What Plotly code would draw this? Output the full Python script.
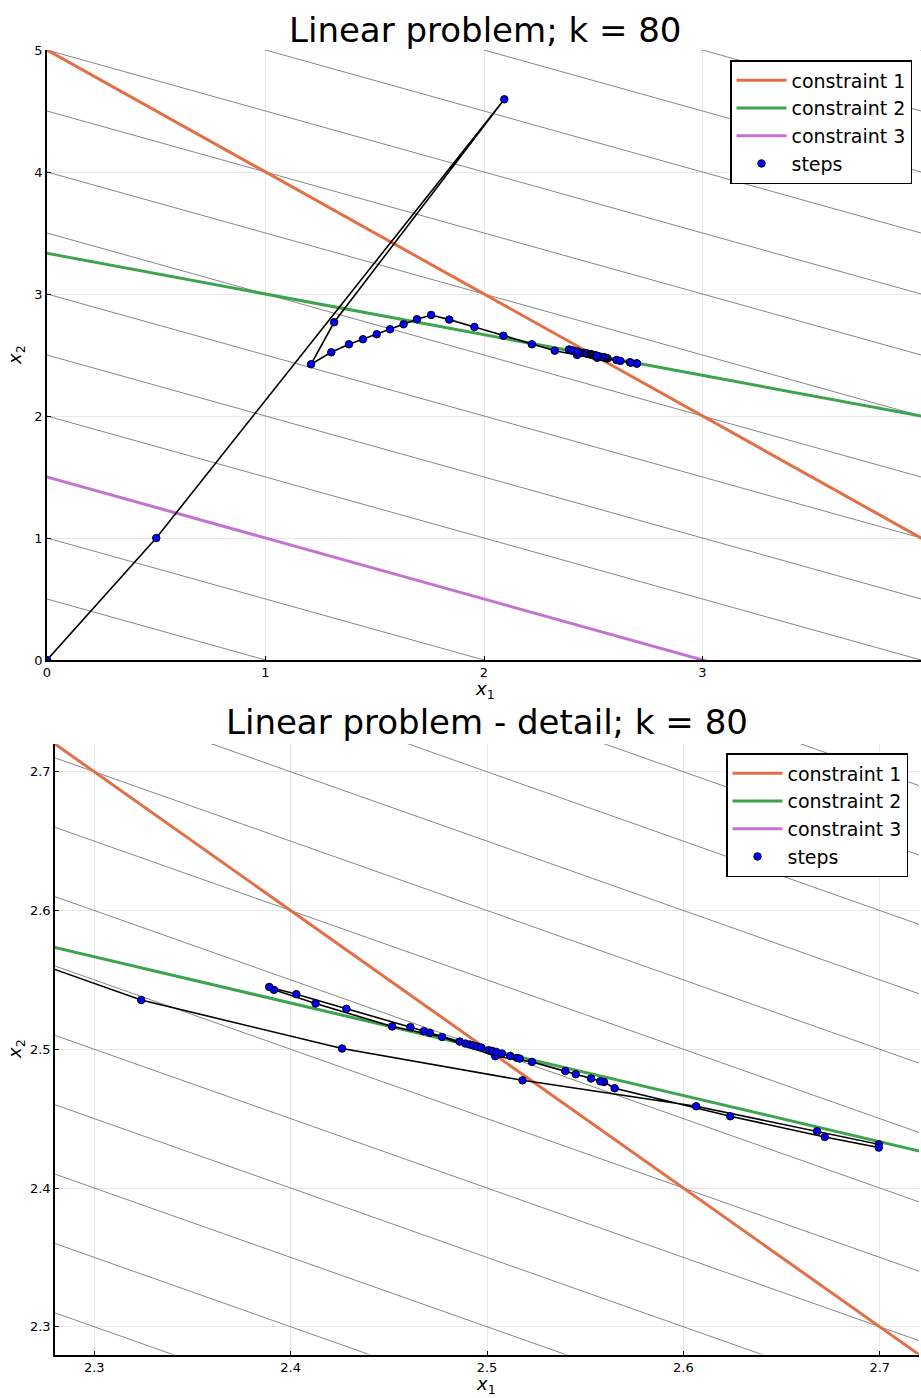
import plotly.graph_objects as go

# ---------------- data ----------------
# iterates of the method (x1, x2)
steps_x1 = [0.0, 0.5, 2.093, 1.314, 1.208, 1.301, 1.382, 1.446, 1.509, 1.570, 1.632, 1.693,
            1.758, 1.841, 1.956, 2.089, 2.219, 2.3239, 2.4262, 2.5181, 2.6065, 2.6681, 2.6995,
            2.6995, 2.672, 2.6239, 2.565, 2.5596, 2.5577, 2.553, 2.5452, 2.5399, 2.5229, 2.5042,
            2.4771, 2.4517, 2.4127, 2.3915, 2.3891, 2.4029, 2.4284, 2.461, 2.4678, 2.4709, 2.4861,
            2.489, 2.4912, 2.4929, 2.4949, 2.4971, 2.5008, 2.5026, 2.5047, 2.5076, 2.5119, 2.5153,
            2.5166]
steps_x2 = [0.0, 1.0, 4.596, 2.768, 2.424, 2.522, 2.588, 2.629, 2.670, 2.711, 2.752, 2.793,
            2.828, 2.790, 2.730, 2.658, 2.588, 2.5355, 2.5005, 2.4776, 2.4589, 2.4409, 2.4315,
            2.4291, 2.4368, 2.4517, 2.4719, 2.4764, 2.4769, 2.4789, 2.482, 2.4843, 2.4909, 2.495,
            2.5089, 2.5164, 2.533, 2.5428, 2.5449, 2.5397, 2.5291, 2.5159, 2.513, 2.5118, 2.5055,
            2.5041, 2.5034, 2.5027, 2.502, 2.5012, 2.4993, 2.4988, 2.4981, 2.4969, 2.4952, 2.4937,
            2.4933]

# constraints a1*x1 + a2*x2 = b
constraint_names = ["constraint 1", "constraint 2", "constraint 3"]
constraint_a1 = [1.0, 1.0, 1.0]
constraint_a2 = [1.0, 3.0, 2.0]
constraint_b = [5.0, 10.0, 3.0]
constraint_colors = ["#E26F46", "#3DA44D", "#C371D2"]

# objective c1*x1 + c2*x2, contour levels
objective_c = [1.0, 2.0]
levels_main = [1, 2, 3, 4, 5, 6, 7, 8, 9, 10, 11, 12, 13, 14]
levels_detail = [6.9, 7.0, 7.1, 7.2, 7.3, 7.4, 7.5, 7.6, 7.7, 7.8, 7.9, 8.0, 8.1]

main_range_x = [0, 4]
main_range_y = [0, 5]
detail_range = [2.28, 2.72]
main_ticks_x = [0, 1, 2, 3, 4]
main_ticks_y = [0, 1, 2, 3, 4, 5]
detail_ticks = [2.3, 2.4, 2.5, 2.6, 2.7]

title_main = "Linear problem; k = 80"
title_detail = "Linear problem - detail; k = 80"

# ---------------- figure ----------------
W, H = 921, 1398
FONT = "DejaVu Sans"
fig = go.Figure()


def px_x(p):
    return p / W


def px_y(p):
    return (H - p) / H


def add_panel(xr, yr, levels, xa, ya, legend):
    xs = [xr[0] - 1, xr[1] + 1]
    # objective contours
    for lv in levels:
        ys = [(lv - objective_c[0] * x) / objective_c[1] for x in xs]
        fig.add_trace(go.Scatter(x=xs, y=ys, mode="lines", xaxis=xa, yaxis=ya,
                                 line=dict(color="rgb(120,120,120)", width=0.9),
                                 showlegend=False, hoverinfo="skip"))
    # constraints
    for name, a1, a2, b, col in zip(constraint_names, constraint_a1, constraint_a2,
                                    constraint_b, constraint_colors):
        ys = [(b - a1 * x) / a2 for x in xs]
        fig.add_trace(go.Scatter(x=xs, y=ys, mode="lines", name=name, xaxis=xa, yaxis=ya,
                                 line=dict(color=col, width=3), legend=legend))
    # path
    fig.add_trace(go.Scatter(x=steps_x1, y=steps_x2, mode="lines", xaxis=xa, yaxis=ya,
                             line=dict(color="black", width=1.6), showlegend=False,
                             hoverinfo="skip"))
    fig.add_trace(go.Scatter(x=steps_x1, y=steps_x2, mode="markers", name="steps",
                             xaxis=xa, yaxis=ya, legend=legend,
                             marker=dict(color="#0000FF", size=7.5,
                                         line=dict(color="black", width=1))))


add_panel(main_range_x, main_range_y, levels_main, "x", "y", "legend")
add_panel(detail_range, detail_range, levels_detail, "x2", "y2", "legend2")

axis_common = dict(showgrid=True, gridcolor="rgb(232,232,232)", gridwidth=1,
                   zeroline=False, showline=True, linecolor="black", linewidth=1.5,
                   ticks="inside", ticklen=4, tickcolor="black", tickwidth=1,
                   tickfont=dict(family=FONT, size=13, color="black"), automargin=False,
                   mirror=False)

legend_common = dict(xanchor="right", yanchor="top", bgcolor="white",
                     bordercolor="black", borderwidth=1.5, itemwidth=50,
                     font=dict(family=FONT, size=19, color="black"))

fig.update_layout(
    width=W, height=H,
    margin=dict(l=0, r=0, t=0, b=0),
    paper_bgcolor="white", plot_bgcolor="white",
    font=dict(family=FONT, color="black"),
    xaxis=dict(domain=[px_x(47), px_x(921)], range=main_range_x, tickvals=main_ticks_x,
               anchor="y", **axis_common),
    yaxis=dict(domain=[px_y(660), px_y(50)], range=main_range_y, tickvals=main_ticks_y,
               anchor="x", **axis_common),
    xaxis2=dict(domain=[px_x(55), px_x(919)], range=detail_range, tickvals=detail_ticks,
                anchor="y2", **axis_common),
    yaxis2=dict(domain=[px_y(1354.5), px_y(744)], range=detail_range, tickvals=detail_ticks,
                anchor="x2", **axis_common),
    legend=dict(x=px_x(912), y=px_y(60), **legend_common),
    legend2=dict(x=px_x(908), y=px_y(753), **legend_common),
    showlegend=True,
)

annots = [
    dict(text=title_main, x=px_x(485), y=px_y(30), size=34),
    dict(text=title_detail, x=px_x(487), y=px_y(722), size=34),
    dict(text="<i>x</i><sub>1</sub>", x=px_x(485), y=px_y(690), size=18),
    dict(text="<i>x</i><sub>1</sub>", x=px_x(486), y=px_y(1385), size=18),
]
for a in annots:
    fig.add_annotation(text=a["text"], x=a["x"], y=a["y"], xref="paper", yref="paper",
                       xanchor="center", yanchor="middle", showarrow=False,
                       font=dict(family=FONT, size=a["size"], color="black"))
for yy in [355, 1049]:
    fig.add_annotation(text="<i>x</i><sub>2</sub>", x=px_x(16), y=px_y(yy), xref="paper",
                       yref="paper", xanchor="center", yanchor="middle", showarrow=False,
                       textangle=-90, font=dict(family=FONT, size=18, color="black"))

fig.write_html("out.html", config={"displayModeBar": False},
               post_script="document.body.style.margin='0';document.body.style.overflow='hidden';")
